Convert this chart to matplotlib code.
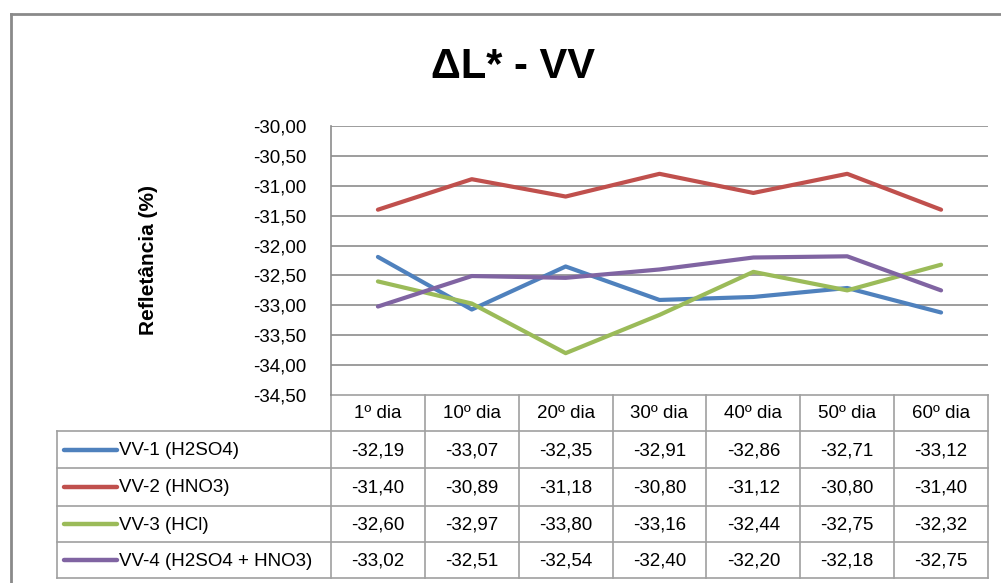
import matplotlib.pyplot as plt
from matplotlib.lines import Line2D

# Dados de refletância (ΔL*) por amostra ao longo dos dias
dias = ["1º dia", "10º dia", "20º dia", "30º dia", "40º dia", "50º dia", "60º dia"]
series_nomes = ["VV-1 (H2SO4)", "VV-2 (HNO3)", "VV-3 (HCl)", "VV-4 (H2SO4 + HNO3)"]
vv1 = [-32.19, -33.07, -32.35, -32.91, -32.86, -32.71, -33.12]
vv2 = [-31.40, -30.89, -31.18, -30.80, -31.12, -30.80, -31.40]
vv3 = [-32.60, -32.97, -33.80, -33.16, -32.44, -32.75, -32.32]
vv4 = [-33.02, -32.51, -32.54, -32.40, -32.20, -32.18, -32.75]
y_ticks = [-30.0, -30.5, -31.0, -31.5, -32.0, -32.5, -33.0, -33.5, -34.0, -34.5]

cores = ["#4F81BD", "#C0504D", "#9BBB59", "#8064A2"]
series = [vv1, vv2, vv3, vv4]

W, H = 1001, 583
fig = plt.figure(figsize=(W / 100, H / 100), dpi=100)
plt.rcParams["font.family"] = ["Liberation Sans", "DejaVu Sans"]

grid_cor = "#8C8C8C"
borda_cor = "#A0A0A0"
fs = 13.5


def px(x0, y0, w, h):
    return [x0 / W, 1 - (y0 + h) / H, w / W, h / H]


# Camada de fundo em pixels para moldura e tabela
bg = fig.add_axes([0, 0, 1, 1])
bg.set_xlim(0, W)
bg.set_ylim(H, 0)
bg.axis("off")
bg.plot([11, W], [14, 14], color="#8A8A8A", lw=2)
bg.plot([11, 11], [14, H], color="#8A8A8A", lw=2)

bg.text(513, 67, "ΔL* - VV", ha="center", va="center", fontsize=30, fontweight="bold")
bg.text(148, 260, "Refletância (%)", ha="center", va="center", rotation=90,
        fontsize=15, fontweight="bold")

# Área do gráfico
left, right, top, bottom = 331, 988, 126, 395
ax = fig.add_axes(px(left, top, right - left, bottom - top))
x = list(range(len(dias)))
for vals, cor in zip(series, cores):
    ax.plot(x, vals, color=cor, lw=3.0, solid_capstyle="round", solid_joinstyle="round", zorder=3)
ax.set_xlim(-0.5, len(dias) - 0.5)
ax.set_ylim(-34.5, -30.0)
ax.set_yticks(y_ticks)
ax.set_yticklabels([f"{v:.2f}".replace(".", ",") for v in y_ticks], fontsize=fs)
ax.tick_params(axis="y", length=0, pad=18)
ax.set_xticks([])
for sp in ["top", "right", "bottom"]:
    ax.spines[sp].set_visible(False)
ax.spines["left"].set_color(grid_cor)
ax.spines["left"].set_linewidth(1.2)
for v in y_ticks[:-1]:
    ax.axhline(v, color=grid_cor, lw=1.2, zorder=1)
ax.patch.set_alpha(0)

# Tabela de dados abaixo do gráfico
col_w = (right - left) / len(dias)
col_edges = [left + i * col_w for i in range(len(dias) + 1)]
linhas_y = [395, 431, 468, 506, 542, 578]
leg_left = 57

bg.plot([left, right], [linhas_y[0]] * 2, color=borda_cor, lw=1.2)
for yy in linhas_y[1:]:
    bg.plot([leg_left, right], [yy, yy], color=borda_cor, lw=1.2)
for xx in col_edges:
    bg.plot([xx, xx], [linhas_y[0], linhas_y[-1]], color=borda_cor, lw=1.2)
bg.plot([leg_left, leg_left], [linhas_y[1], linhas_y[-1]], color=borda_cor, lw=1.2)

for i, d in enumerate(dias):
    cx = (col_edges[i] + col_edges[i + 1]) / 2
    bg.text(cx, (linhas_y[0] + linhas_y[1]) / 2 + 1, d, ha="center", va="center", fontsize=fs)

for r, (nome, vals, cor) in enumerate(zip(series_nomes, series, cores)):
    cy = (linhas_y[r + 1] + linhas_y[r + 2]) / 2
    bg.add_line(Line2D([64, 117], [cy, cy], color=cor, lw=3.2, solid_capstyle="round"))
    bg.text(119, cy + 1, nome, ha="left", va="center", fontsize=fs)
    for i, v in enumerate(vals):
        cx = (col_edges[i] + col_edges[i + 1]) / 2
        bg.text(cx, cy + 1, f"{v:.2f}".replace(".", ","), ha="center", va="center", fontsize=fs)

fig.savefig("out.png", dpi=100)
